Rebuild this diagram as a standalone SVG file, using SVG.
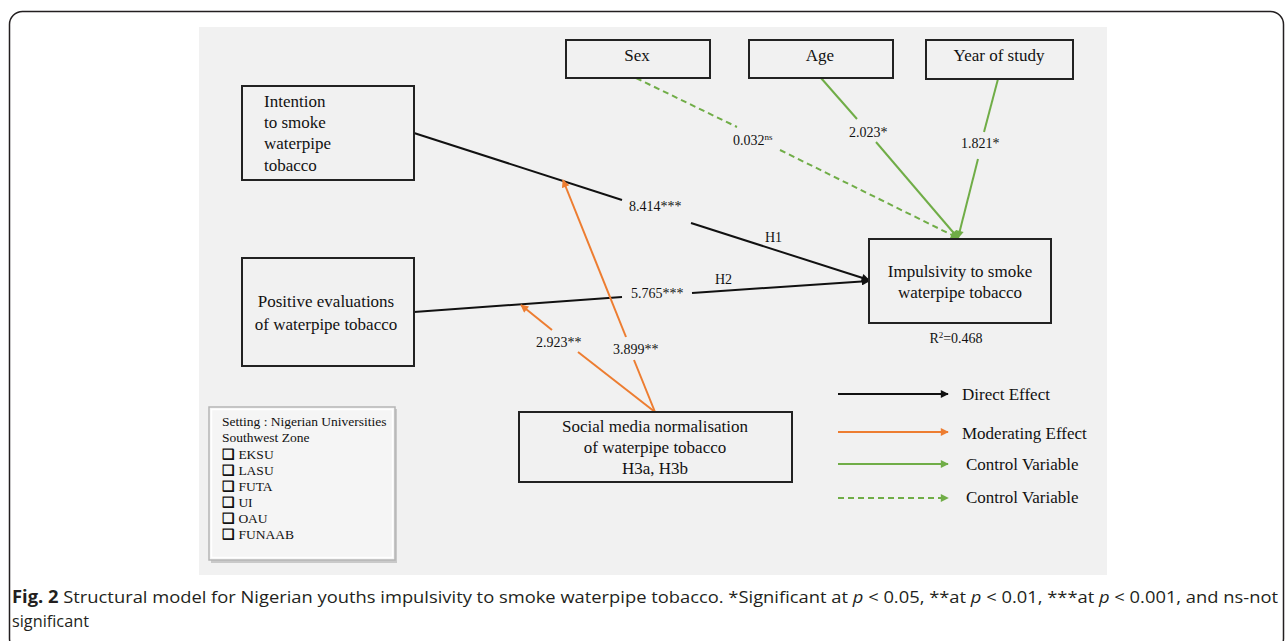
<svg xmlns="http://www.w3.org/2000/svg" width="1285" height="641" viewBox="0 0 1285 641">
<style>
.box{fill:none;stroke:#222;stroke-width:2}
.t{font-family:"Liberation Serif","Times New Roman",serif;font-size:17px;fill:#111}
.tc{text-anchor:middle}
.lbl{font-family:"Liberation Serif","Times New Roman",serif;font-size:14px;fill:#111}
.set{font-family:"Liberation Serif","Times New Roman",serif;font-size:13.5px;fill:#111}
.ck{font-weight:bold}
.blk{stroke:#111;stroke-width:2;fill:none}
.org{stroke:#ED7D31;stroke-width:2;fill:none}
.grn{stroke:#70AD47;stroke-width:2;fill:none}
.dash{stroke-dasharray:6 4}
.cap{font-family:"Open Sans","Liberation Sans",sans-serif;font-size:17px;fill:#231f20}
</style>
<defs>
<marker id="ab" viewBox="0 0 10 10" refX="9" refY="5" markerWidth="9" markerHeight="8" markerUnits="userSpaceOnUse" orient="auto"><path d="M0,0 L10,5 L0,10 z" fill="#111"/></marker>
<marker id="ao" viewBox="0 0 10 10" refX="9" refY="5" markerWidth="9" markerHeight="8" markerUnits="userSpaceOnUse" orient="auto"><path d="M0,0 L10,5 L0,10 z" fill="#ED7D31"/></marker>
<marker id="ag" viewBox="0 0 10 10" refX="9" refY="5" markerWidth="9" markerHeight="8" markerUnits="userSpaceOnUse" orient="auto"><path d="M0,0 L10,5 L0,10 z" fill="#70AD47"/></marker>
</defs>
<rect x="0" y="0" width="1285" height="641" fill="#fff"/>
<rect x="9.5" y="11.5" width="1274" height="640" rx="13" fill="none" stroke="#231f20" stroke-width="1.5"/>
<rect x="199" y="27" width="908" height="548" fill="#F1F1F1"/>

<g id="connectors">
<path class="blk" d="M414,133 L622,200"/>
<path class="blk" d="M691,223 L869,280" marker-end="url(#ab)"/>
<path class="blk" d="M414,312 L622,297"/>
<path class="blk" d="M692,293 L869,281" marker-end="url(#ab)"/>
<path class="org" d="M655,412 L634,360"/>
<path class="org" d="M626,337 L563,180" marker-end="url(#ao)"/>
<path class="org" d="M655,412 L578,352"/>
<path class="org" d="M552,330 L521,305" marker-end="url(#ao)"/>
<path class="grn dash" d="M636,78 L737,127"/>
<path class="grn dash" d="M780,150 L958,238" marker-end="url(#ag)"/>
<path class="grn" d="M821,78 L857,119"/>
<path class="grn" d="M876,142 L958,238" marker-end="url(#ag)"/>
<path class="grn" d="M998,79 L984,132"/>
<path class="grn" d="M978,159 L958,238" marker-end="url(#ag)"/>
<text class="lbl" x="629" y="211">8.414***</text>
<text class="lbl" x="765" y="242">H1</text>
<text class="lbl" x="715" y="284">H2</text>
<text class="lbl" x="631" y="298">5.765***</text>
<text class="lbl" x="536" y="347">2.923**</text>
<text class="lbl" x="613" y="354">3.899**</text>
<text class="lbl" x="733" y="145">0.032<tspan font-size="9" dy="-5">ns</tspan></text>
<text class="lbl" x="849" y="137">2.023*</text>
<text class="lbl" x="961" y="148">1.821*</text>
</g>

<g id="sex"><rect class="box" x="566" y="40" width="144" height="38"/><text class="t tc" x="637" y="61">Sex</text></g>
<g id="age"><rect class="box" x="749" y="40" width="144" height="38"/><text class="t tc" x="820" y="61">Age</text></g>
<g id="year"><rect class="box" x="926" y="40" width="147" height="39"/><text class="t tc" x="999" y="61">Year of study</text></g>

<g id="intention"><rect class="box" x="242" y="86" width="172" height="94"/>
<text class="t" x="264" y="107">Intention</text>
<text class="t" x="264" y="128">to smoke</text>
<text class="t" x="264" y="149">waterpipe</text>
<text class="t" x="264" y="171">tobacco</text></g>

<g id="positive"><rect class="box" x="242" y="258" width="172" height="108"/>
<text class="t tc" x="326" y="307">Positive evaluations</text>
<text class="t tc" x="326" y="330">of waterpipe tobacco</text></g>

<g id="impulsivity"><rect class="box" x="869" y="239" width="182" height="84"/>
<text class="t tc" x="960" y="277">Impulsivity to smoke</text>
<text class="t tc" x="960" y="298">waterpipe tobacco</text>
<text class="lbl tc" x="956" y="343">R<tspan font-size="9" dy="-5">2</tspan><tspan dy="5">=0.468</tspan></text></g>

<g id="social"><rect class="box" x="519" y="412" width="273" height="70"/>
<text class="t tc" x="655" y="432">Social media normalisation</text>
<text class="t tc" x="655" y="453">of waterpipe tobacco</text>
<text class="t tc" x="655" y="474">H3a, H3b</text></g>

<g id="setting">
<rect x="211" y="409" width="186" height="154" fill="#c9c9c9"/>
<rect x="209" y="407" width="186" height="153" fill="#F5F5F5" stroke="#b5b5b5" stroke-width="1.5"/>
<rect x="211.5" y="409.5" width="181" height="148" fill="none" stroke="#fff" stroke-width="1.5"/>
<text class="set" x="222" y="426">Setting : Nigerian Universities</text>
<text class="set" x="222" y="442">Southwest Zone</text>
<text class="set" x="222" y="459"><tspan class="ck">❑</tspan> EKSU</text>
<text class="set" x="222" y="475"><tspan class="ck">❑</tspan> LASU</text>
<text class="set" x="222" y="491"><tspan class="ck">❑</tspan> FUTA</text>
<text class="set" x="222" y="507"><tspan class="ck">❑</tspan> UI</text>
<text class="set" x="222" y="523"><tspan class="ck">❑</tspan> OAU</text>
<text class="set" x="222" y="539"><tspan class="ck">❑</tspan> FUNAAB</text>
</g>

<g id="legend">
<path class="blk" d="M838,394 L948,394" marker-end="url(#ab)" stroke-width="1.8"/>
<text class="t" x="962" y="400">Direct Effect</text>
<path class="org" d="M838,432 L948,432" marker-end="url(#ao)" stroke-width="1.8"/>
<text class="t" x="962" y="439">Moderating Effect</text>
<path class="grn" d="M838,464 L948,464" marker-end="url(#ag)" stroke-width="1.8"/>
<text class="t" x="966" y="470">Control Variable</text>
<path class="grn dash" d="M838,498 L948,498" marker-end="url(#ag)" stroke-width="1.8"/>
<text class="t" x="966" y="503">Control Variable</text>
</g>

<g id="caption">
<text class="cap" x="12" y="603" textLength="1266" lengthAdjust="spacingAndGlyphs"><tspan font-weight="bold">Fig. 2</tspan>  Structural model for Nigerian youths impulsivity to smoke waterpipe tobacco. *Significant at <tspan font-style="italic">p</tspan> &lt; 0.05, **at <tspan font-style="italic">p</tspan> &lt; 0.01, ***at <tspan font-style="italic">p</tspan> &lt; 0.001, and ns-not</text>
<text class="cap" x="12" y="627" textLength="77" lengthAdjust="spacingAndGlyphs">significant</text>
</g>
</svg>
